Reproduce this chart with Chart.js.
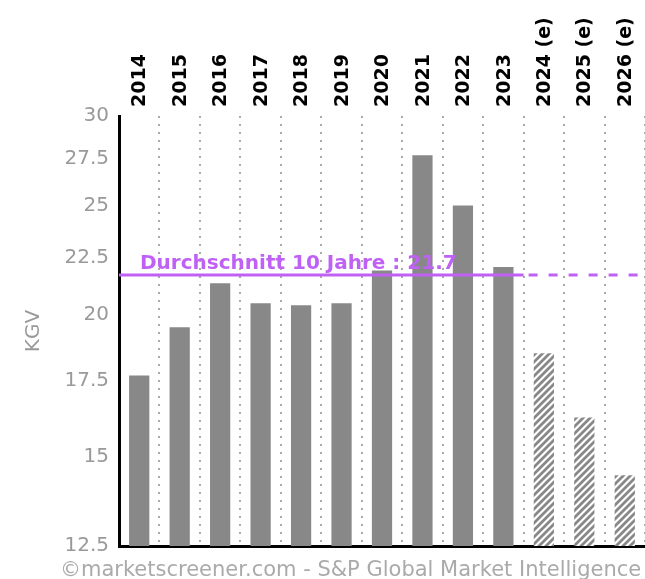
<!DOCTYPE html>
<html>
<head>
<meta charset="utf-8">
<script src="https://cdn.jsdelivr.net/npm/chart.js@4.4.1/dist/chart.umd.min.js"></script>
<style>
    html, body { margin: 0; padding: 0; background: #fff; }
</style>
</head>
<body>
<canvas id="myChart" width="645" height="579"></canvas>
<script>
const years = ['2014', '2015', '2016', '2017', '2018', '2019', '2020', '2021', '2022', '2023', '2024 (e)', '2025 (e)', '2026 (e)'];
const kgv = [17.69, 19.51, 21.34, 20.49, 20.41, 20.49, 21.9, 27.7, 25.0, 22.06, 18.51, 16.24, 14.44];
const estimated = [false, false, false, false, false, false, false, false, false, false, true, true, true];
const yTicks = [12.5, 15, 17.5, 20, 22.5, 25, 27.5, 30];
const average = 21.7;
const averageLabel = 'Durchschnitt 10 Jahre : 21.7';
const copyright = '©marketscreener.com - S&P Global Market Intelligence';

const purple = '#c061f5';
const font = 'DejaVu Sans';

// Schraffur für die geschätzten Jahre
function hatch() {
    const n = 7;
    const p = document.createElement('canvas');
    p.width = n;
    p.height = n;
    const c = p.getContext('2d');
    c.fillStyle = '#fff';
    c.fillRect(0, 0, n, n);
    c.strokeStyle = '#888';
    c.lineWidth = 2.8;
    c.beginPath();
    c.moveTo(0, n); c.lineTo(n, 0);
    c.moveTo(-1, 1); c.lineTo(1, -1);
    c.moveTo(n - 1, n + 1); c.lineTo(n + 1, n - 1);
    c.stroke();
    return c.createPattern(p, 'repeat');
}
const pattern = hatch();

// Durchschnittslinie + Beschriftung
const averagePlugin = {
    id: 'average',
    afterDatasetsDraw(chart) {
        const ctx = chart.ctx;
        const area = chart.chartArea;
        const x = chart.scales.x;
        const y = chart.scales.y.getPixelForValue(average);
        const split = (x.getPixelForValue(9) + x.getPixelForValue(10)) / 2;
        ctx.save();
        ctx.strokeStyle = purple;
        ctx.lineWidth = 3;
        ctx.beginPath();
        ctx.moveTo(area.left, y);
        ctx.lineTo(split, y);
        ctx.stroke();
        ctx.setLineDash([9, 11]);
        ctx.beginPath();
        ctx.moveTo(split + 5, y);
        ctx.lineTo(area.right, y);
        ctx.stroke();
        ctx.setLineDash([]);
        ctx.fillStyle = purple;
        ctx.font = 'bold 20px "' + font + '"';
        ctx.textBaseline = 'alphabetic';
        ctx.fillText(averageLabel, area.left + 21, y - 6);
        ctx.restore();
    }
};

const copyrightPlugin = {
    id: 'copyright',
    afterDraw(chart) {
        const ctx = chart.ctx;
        ctx.save();
        ctx.fillStyle = '#aaa';
        ctx.font = '21px "' + font + '"';
        ctx.textBaseline = 'alphabetic';
        ctx.fillText(copyright, 60, 576);
        ctx.restore();
    }
};

const ctx = document.getElementById('myChart');
const config = {
    type: 'bar',
    data: {
        labels: years,
        datasets: [{
            data: kgv,
            backgroundColor: estimated.map(e => e ? pattern : '#888'),
            borderWidth: 0,
            barPercentage: 0.5,
            categoryPercentage: 1
        }]
    },
    options: {
        responsive: false,
        animation: false,
        layout: { padding: 0 },
        plugins: {
            legend: { display: false },
            tooltip: { enabled: false }
        },
        scales: {
            x: {
                position: 'top',
                afterFit: s => { s.height = 116; },
                ticks: {
                    color: '#000',
                    font: { family: font, size: 19, weight: 'bold' },
                    minRotation: 90,
                    maxRotation: 90,
                    padding: 9,
                    labelOffset: 24,
                    autoSkip: false
                },
                grid: { display: true, offset: true, drawTicks: false, color: '#aaa', lineWidth: 2 },
                border: { display: false, dash: [2, 6] }
            },
            x2: {
                type: 'category',
                labels: years,
                position: 'bottom',
                afterFit: s => { s.height = 33; },
                ticks: { display: false },
                grid: { display: false, drawTicks: false },
                border: { display: true, color: '#000', width: 3 }
            },
            y: {
                type: 'logarithmic',
                min: 12.5,
                max: 30,
                afterBuildTicks: s => { s.ticks = yTicks.map(v => ({ value: v })); },
                afterFit: s => { s.width = 119; },
                ticks: {
                    color: '#999',
                    font: { family: font, size: 20 },
                    padding: 10,
                    callback: v => String(v)
                },
                grid: { display: false, drawTicks: false },
                border: { display: true, color: '#000', width: 3 },
                title: {
                    display: true,
                    text: 'KGV',
                    color: '#999',
                    font: { family: font, size: 20 },
                    padding: { top: 22, bottom: 0 }
                }
            }
        }
    },
    plugins: [averagePlugin, copyrightPlugin]
};

let chart = new Chart(ctx, config);
</script>
</body>
</html>
